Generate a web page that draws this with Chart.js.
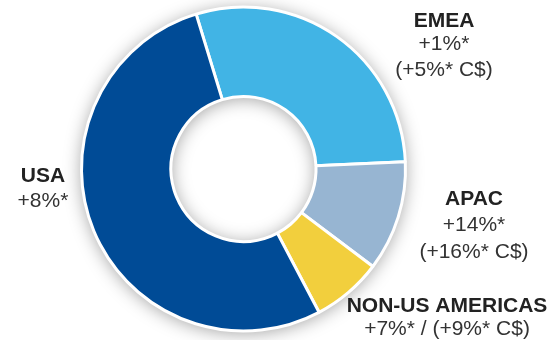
<!DOCTYPE html>
<html>
<head>
<meta charset="utf-8">
<script src="https://cdn.jsdelivr.net/npm/chart.js@4/dist/chart.umd.min.js"></script>
<style>
    html, body { margin: 0; padding: 0; background: #fff; }
    #regionChart { display: block; }
</style>
</head>
<body>
<canvas id="regionChart" width="554" height="340"></canvas>
<script>
// revenue mix by region, drawn clockwise starting from EMEA
const regions = ['EMEA', 'APAC', 'NON-US AMERICAS', 'USA'];
const shares = [29, 11, 7, 53];
const growth = ['+1%*', '+14%*', '+7%* / (+9%* C$)', '+8%*'];
const growthCad = ['(+5%* C$)', '(+16%* C$)', '', ''];
const regionColors = ['#41b4e5', '#97b5d2', '#f2cf3d', '#004b96'];

// where each region's caption sits: centre x and baselines of its lines
const captionSpots = [
    { x: 444, y: [27, 50, 76] },
    { x: 474, y: [205, 231, 258] },
    { x: 447, y: [312, 335] },
    { x: 43, y: [182, 207] },
];

// soft shadow under the ring, spilling outside and into the hole
const ringShadow = {
    id: 'ringShadow',
    beforeDatasetsDraw(chart) {
        const arc = chart.getDatasetMeta(0).data[0];
        if (!arc) return;
        const { x, y, innerRadius, outerRadius } = arc.getProps(['x', 'y', 'innerRadius', 'outerRadius'], true);
        const ctx = chart.ctx;
        ctx.save();
        ctx.shadowColor = 'rgba(0,0,0,0.38)';
        ctx.shadowBlur = 18;
        ctx.shadowOffsetY = 2;
        ctx.fillStyle = '#fff';
        ctx.beginPath();
        ctx.arc(x, y, outerRadius, 0, Math.PI * 2);
        ctx.arc(x, y, innerRadius, 0, Math.PI * 2, true);
        ctx.fill();
        ctx.restore();
    },
};

const regionCaptions = {
    id: 'regionCaptions',
    afterDraw(chart) {
        const ctx = chart.ctx;
        ctx.save();
        ctx.textAlign = 'center';
        ctx.textBaseline = 'alphabetic';
        regions.forEach((name, i) => {
            const spot = captionSpots[i];
            const lines = [growth[i], growthCad[i]].filter((t) => t);
            ctx.font = 'bold 21px "Liberation Sans", Arial, sans-serif';
            ctx.fillStyle = '#222';
            ctx.fillText(name, spot.x, spot.y[0]);
            ctx.font = '21px "Liberation Sans", Arial, sans-serif';
            ctx.fillStyle = '#333';
            lines.forEach((t, j) => ctx.fillText(t, spot.x, spot.y[j + 1]));
        });
        ctx.restore();
    },
};

new Chart(document.getElementById('regionChart'), {
    type: 'doughnut',
    data: {
        labels: regions,
        datasets: [{
            data: shares,
            backgroundColor: regionColors,
            borderColor: '#fff',
            borderWidth: 3,
            hoverBorderWidth: 3,
            hoverOffset: 0,
        }],
    },
    options: {
        responsive: false,
        animation: false,
        rotation: -17,
        radius: 162,
        cutout: 75,
        layout: { padding: { left: 0, right: 67, top: 0, bottom: 2 } },
        plugins: {
            legend: { display: false },
            tooltip: { enabled: false },
        },
    },
    plugins: [ringShadow, regionCaptions],
});
</script>
</body>
</html>
